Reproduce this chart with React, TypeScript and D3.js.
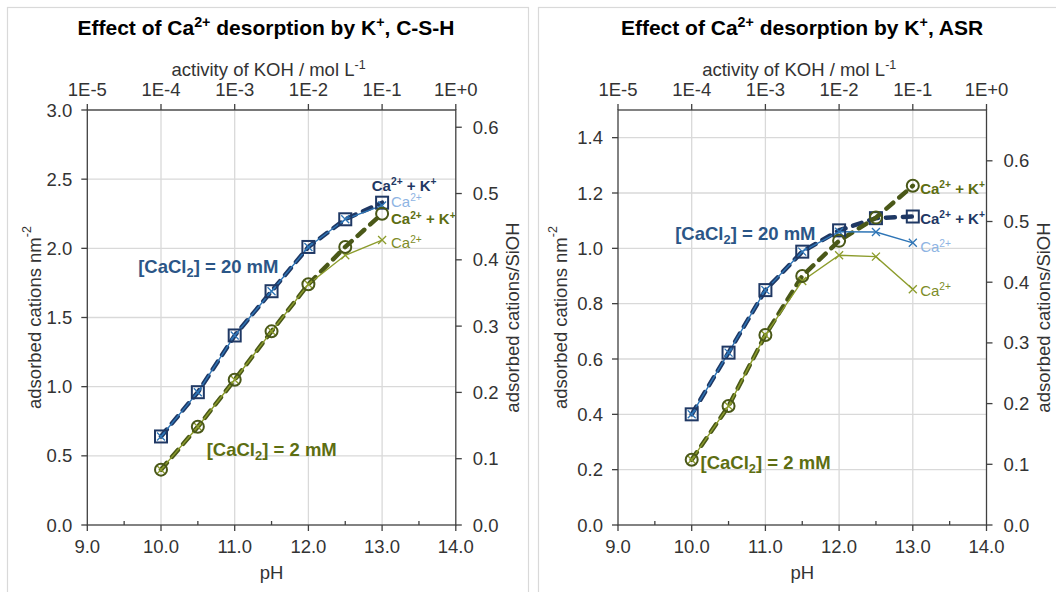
import React from "react";
import * as d3 from "d3";

// ---------------- data ----------------
const pHValues = [10, 10.5, 11, 11.5, 12, 12.5, 13];

// C-S-H
const cshCaK20 = [0.64, 0.96, 1.37, 1.69, 2.01, 2.21, 2.33];
const cshCa20 = [0.64, 0.96, 1.37, 1.69, 2.01, 2.21, 2.31];
const cshCaK2 = [0.4, 0.71, 1.05, 1.4, 1.74, 2.01, 2.25];
const cshCa2 = [0.4, 0.71, 1.05, 1.4, 1.74, 1.95, 2.06];

// ASR
const asrCaK20 = [0.4, 0.623, 0.849, 0.988, 1.065, 1.109, 1.115];
const asrCa20 = [0.4, 0.623, 0.849, 0.988, 1.06, 1.059, 1.02];
const asrCaK2 = [0.236, 0.43, 0.687, 0.9, 1.027, 1.111, 1.226];
const asrCa2 = [0.236, 0.43, 0.687, 0.882, 0.975, 0.97, 0.852];

const pHTicks = [9, 10, 11, 12, 13, 14];
const pHMinorTicks = [9.5, 10.5, 11.5, 12.5, 13.5];
const activityTicks = [1e-5, 1e-4, 1e-3, 1e-2, 1e-1, 1];
const activityTickLabels = ["1E-5", "1E-4", "1E-3", "1E-2", "1E-1", "1E+0"];
const cshYTicks = [0, 0.5, 1.0, 1.5, 2.0, 2.5, 3.0];
const asrYTicks = [0, 0.2, 0.4, 0.6, 0.8, 1.0, 1.2, 1.4];
const sioHTicks = [0, 0.1, 0.2, 0.3, 0.4, 0.5, 0.6];

const titles = [
  "Effect of Ca^{2+} desorption by K^{+}, C-S-H",
  "Effect of Ca^{2+} desorption by K^{+}, ASR",
];
const topAxisTitle = "activity of KOH / mol L^{-1}";
const leftAxisTitle = "adsorbed cations nm^{-2}";
const rightAxisTitle = "adsorbed cations/SiOH";
const bottomAxisTitle = "pH";
const label20 = "[CaCl_{2}] = 20 mM";
const label2 = "[CaCl_{2}] = 2 mM";
const labelCaK = "Ca^{2+} + K^{+}";
const labelCa = "Ca^{2+}";

// ---------------- style ----------------
const FONT = "'Liberation Sans', Arial, Helvetica, sans-serif";
const NAVY = "#1f3864";
const BLUE = "#2e75b6";
const LIGHTBLUE = "#8eb4e3";
const NAVYTEXT = "#2b5687";
const OLIVE_DARK = "#4a5818";
const OLIVE = "#8c9c2c";
const OLIVE_TEXT = "#5d6e12";
const OLIVE_LIGHT_TEXT = "#7d8c28";
const AXIS = "#404040";
const GRID = "#d9d9d9";
const TEXT = "#333333";

function Rich({ s, fs }: { s: string; fs: number }) {
  const tokens = s.split(/(\^\{[^}]*\}|_\{[^}]*\})/).filter((t) => t !== "");
  let cur = 0;
  const out: any[] = [];
  tokens.forEach((t, i) => {
    let target = 0;
    let txt = t;
    let size: number | undefined = undefined;
    if (t.startsWith("^{")) {
      target = -0.36 * fs;
      txt = t.slice(2, -1);
      size = fs * 0.68;
    } else if (t.startsWith("_{")) {
      target = 0.22 * fs;
      txt = t.slice(2, -1);
      size = fs * 0.7;
    }
    const dy = target - cur;
    cur = target;
    out.push(
      <tspan key={i} dy={dy} fontSize={size}>
        {txt}
      </tspan>
    );
  });
  return <>{out}</>;
}

type SeriesLabel = { text: string; pH: number; v: number; color: string; bold: boolean; fs: number };

type PanelCfg = {
  x0: number;
  x1: number;
  yTop: number;
  yBottom: number;
  yMax: number;
  y2Max: number;
  yTicks: number[];
  title: string;
  titleX: number;
  caK20: number[];
  ca20: number[];
  caK2: number[];
  ca2: number[];
  labels: SeriesLabel[];
  leftTitleX: number;
  rightTitleX: number;
  border: { x: number; w: number };
};

function Panel({ c }: { c: PanelCfg }) {
  const x = d3.scaleLinear().domain([9, 14]).range([c.x0, c.x1]);
  const xt = d3.scaleLog().domain([1e-5, 1]).range([c.x0, c.x1]);
  const y = d3.scaleLinear().domain([0, c.yMax]).range([c.yBottom, c.yTop]);
  const y2 = d3.scaleLinear().domain([0, c.y2Max]).range([c.yBottom, c.yTop]);
  const line = d3
    .line<number>()
    .x((_, i) => x(pHValues[i]))
    .y((d) => y(d));
  const midY = (c.yTop + c.yBottom) / 2;
  const midX = (c.x0 + c.x1) / 2;
  const tickFs = 18.5;

  const xMark = (cx: number, cy: number, col: string, k: string) => (
    <path
      key={k}
      d={`M${cx - 4},${cy - 4}L${cx + 4},${cy + 4}M${cx - 4},${cy + 4}L${cx + 4},${cy - 4}`}
      stroke={col}
      strokeWidth={1.3}
      fill="none"
    />
  );

  return (
    <g>
      <rect x={c.border.x} y={7.5} width={c.border.w} height={640} fill="none" stroke={GRID} strokeWidth={1.2} />
      {/* title */}
      <text x={c.titleX} y={35} textAnchor="middle" fontSize={21} fontWeight="bold" fill="#000">
        <Rich s={c.title} fs={21} />
      </text>
      <text x={midX - 3} y={76} textAnchor="middle" fontSize={tickFs} fill={TEXT}>
        <Rich s={topAxisTitle} fs={tickFs} />
      </text>
      {/* grid */}
      {pHTicks.slice(1, -1).map((t) => (
        <line key={"gx" + t} x1={x(t)} x2={x(t)} y1={c.yTop} y2={c.yBottom} stroke={GRID} strokeWidth={1.3} />
      ))}
      {c.yTicks.slice(1).map((t) => (
        <line key={"gy" + t} x1={c.x0} x2={c.x1} y1={y(t)} y2={y(t)} stroke={GRID} strokeWidth={1.3} />
      ))}
      {/* axes */}
      <rect x={c.x0} y={c.yTop} width={c.x1 - c.x0} height={c.yBottom - c.yTop} fill="none" stroke={AXIS} strokeWidth={1.3} />
      {/* bottom ticks */}
      {pHTicks.map((t) => (
        <g key={"bx" + t}>
          <line x1={x(t)} x2={x(t)} y1={c.yBottom} y2={c.yBottom + 6} stroke={AXIS} strokeWidth={1.3} />
          <text x={x(t)} y={553} textAnchor="middle" fontSize={tickFs} fill={TEXT}>
            {t.toFixed(1)}
          </text>
        </g>
      ))}
      {pHMinorTicks.map((t) => (
        <line key={"mx" + t} x1={x(t)} x2={x(t)} y1={c.yBottom} y2={c.yBottom - 4} stroke={AXIS} strokeWidth={1.3} />
      ))}
      <text x={midX} y={579} textAnchor="middle" fontSize={tickFs} fill={TEXT}>
        {bottomAxisTitle}
      </text>
      {/* top ticks */}
      {activityTicks.map((t, i) => (
        <g key={"tx" + i}>
          <line x1={xt(t)} x2={xt(t)} y1={c.yTop} y2={c.yTop - 6} stroke={AXIS} strokeWidth={1.3} />
          <text x={xt(t)} y={96} textAnchor="middle" fontSize={tickFs} fill={TEXT}>
            {activityTickLabels[i]}
          </text>
        </g>
      ))}
      {/* left ticks */}
      {c.yTicks.map((t) => (
        <g key={"ly" + t}>
          <line x1={c.x0 - 6} x2={c.x0} y1={y(t)} y2={y(t)} stroke={AXIS} strokeWidth={1.3} />
          <text x={c.x0 - 15} y={y(t) + 6.5} textAnchor="end" fontSize={tickFs} fill={TEXT}>
            {t.toFixed(1)}
          </text>
        </g>
      ))}
      <text
        transform={`translate(${c.leftTitleX},${midY}) rotate(-90)`}
        textAnchor="middle"
        dominantBaseline="central"
        fontSize={tickFs}
        fill={TEXT}
      >
        <Rich s={leftAxisTitle} fs={tickFs} />
      </text>
      {/* right ticks */}
      {sioHTicks.map((t) => (
        <g key={"ry" + t}>
          <line x1={c.x1} x2={c.x1 + 6} y1={y2(t)} y2={y2(t)} stroke={AXIS} strokeWidth={1.3} />
          <text x={c.x1 + 17} y={y2(t) + 6.5} textAnchor="start" fontSize={tickFs} fill={TEXT}>
            {t.toFixed(1)}
          </text>
        </g>
      ))}
      <text
        transform={`translate(${c.rightTitleX},${midY}) rotate(-90)`}
        textAnchor="middle"
        dominantBaseline="central"
        fontSize={tickFs}
        fill={TEXT}
      >
        {rightAxisTitle}
      </text>

      {/* series lines */}
      <path d={line(c.caK20) || ""} fill="none" stroke={NAVY} strokeWidth={4.5} strokeDasharray="9,8" strokeLinecap="round" />
      <path d={line(c.caK2) || ""} fill="none" stroke={OLIVE_DARK} strokeWidth={4.5} strokeDasharray="9,8" strokeLinecap="round" />
      <path d={line(c.ca20) || ""} fill="none" stroke={BLUE} strokeWidth={1.4} />
      <path d={line(c.ca2) || ""} fill="none" stroke={OLIVE} strokeWidth={1.4} />
      {/* markers */}
      {c.ca20.map((v, i) => xMark(x(pHValues[i]), y(v), BLUE, "xb" + i))}
      {c.ca2.map((v, i) => xMark(x(pHValues[i]), y(v), OLIVE, "xo" + i))}
      {c.caK20.map((v, i) => (
        <rect key={"sq" + i} x={x(pHValues[i]) - 6} y={y(v) - 6} width={12} height={12} fill="none" stroke={NAVY} strokeWidth={2} />
      ))}
      {c.caK2.map((v, i) => (
        <circle key={"ci" + i} cx={x(pHValues[i])} cy={y(v)} r={6} fill="none" stroke={OLIVE_DARK} strokeWidth={2} />
      ))}
      {/* labels */}
      {c.labels.map((l, i) => (
        <text
          key={"lb" + i}
          x={x(l.pH)}
          y={y(l.v) + l.fs * 0.36}
          fontSize={l.fs}
          fontWeight={l.bold ? "bold" : "normal"}
          fill={l.color}
        >
          <Rich s={l.text} fs={l.fs} />
        </text>
      ))}
    </g>
  );
}

export default function App() {
  const csh: PanelCfg = {
    x0: 87.3,
    x1: 455.8,
    yTop: 110,
    yBottom: 525,
    yMax: 3.0,
    y2Max: 0.626,
    yTicks: cshYTicks,
    title: titles[0],
    titleX: 266,
    caK20: cshCaK20,
    ca20: cshCa20,
    caK2: cshCaK2,
    ca2: cshCa2,
    leftTitleX: 34,
    rightTitleX: 512,
    border: { x: 7.5, w: 521 },
    labels: [
      { text: label20, pH: 9.69, v: 1.872, color: NAVYTEXT, bold: true, fs: 18.5 },
      { text: label2, pH: 10.62, v: 0.55, color: OLIVE_TEXT, bold: true, fs: 18.5 },
      { text: labelCaK, pH: 12.86, v: 2.455, color: NAVY, bold: true, fs: 15 },
      { text: labelCa, pH: 13.12, v: 2.34, color: LIGHTBLUE, bold: false, fs: 15 },
      { text: labelCaK, pH: 13.12, v: 2.215, color: OLIVE_TEXT, bold: true, fs: 15 },
      { text: labelCa, pH: 13.12, v: 2.04, color: OLIVE_LIGHT_TEXT, bold: false, fs: 15 },
    ],
  };
  const asr: PanelCfg = {
    x0: 618,
    x1: 986.5,
    yTop: 110,
    yBottom: 525,
    yMax: 1.5,
    y2Max: 0.6837,
    yTicks: asrYTicks,
    title: titles[1],
    titleX: 802,
    caK20: asrCaK20,
    ca20: asrCa20,
    caK2: asrCaK2,
    ca2: asrCa2,
    leftTitleX: 560,
    rightTitleX: 1043,
    border: { x: 538.5, w: 600 },
    labels: [
      { text: label20, pH: 9.776, v: 1.053, color: NAVYTEXT, bold: true, fs: 18.5 },
      { text: label2, pH: 10.12, v: 0.226, color: OLIVE_TEXT, bold: true, fs: 18.5 },
      { text: labelCaK, pH: 13.1, v: 1.217, color: OLIVE_TEXT, bold: true, fs: 15 },
      { text: labelCaK, pH: 13.1, v: 1.109, color: NAVY, bold: true, fs: 15 },
      { text: labelCa, pH: 13.1, v: 1.006, color: LIGHTBLUE, bold: false, fs: 15 },
      { text: labelCa, pH: 13.1, v: 0.849, color: OLIVE_LIGHT_TEXT, bold: false, fs: 15 },
    ],
  };
  return (
    <svg
      width={1056}
      height={592}
      style={{ position: "absolute", left: 0, top: 0, background: "#fff" }}
      fontFamily={FONT}
    >
      <rect x={0} y={0} width={1056} height={592} fill="#fff" />
      <Panel c={csh} />
      <Panel c={asr} />
    </svg>
  );
}
